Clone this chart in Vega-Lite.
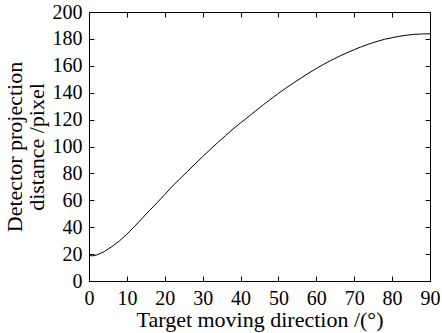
{
  "$schema": "https://vega.github.io/schema/vega-lite/v6.json",
  "width": 341,
  "height": 269,
  "autosize": "none",
  "padding": {"left": 89, "top": 12, "right": 12, "bottom": 52},
  "background": "white",
  "config": {
    "view": {"stroke": "black", "strokeWidth": 1},
    "font": "Liberation Serif",
    "axis": {
      "domain": false,
      "grid": false,
      "labelColor": "black",
      "labelFont": "Liberation Serif",
      "labelFontSize": 20,
      "titleFont": "Liberation Serif",
      "titleFontSize": 22,
      "titleFontWeight": "normal",
      "titleColor": "black"
    }
  },
  "data": {
    "values": [
      {"angle": 0, "distance": 19.0},
      {"angle": 1, "distance": 18.7},
      {"angle": 2, "distance": 19.3},
      {"angle": 4, "distance": 21.8},
      {"angle": 6, "distance": 25.5},
      {"angle": 8, "distance": 29.7},
      {"angle": 10, "distance": 34.8},
      {"angle": 12, "distance": 40.5},
      {"angle": 14, "distance": 46.5},
      {"angle": 16, "distance": 52.5},
      {"angle": 18, "distance": 58.3},
      {"angle": 20, "distance": 64.3},
      {"angle": 22, "distance": 70.5},
      {"angle": 24, "distance": 76.0},
      {"angle": 26, "distance": 81.5},
      {"angle": 28, "distance": 87.0},
      {"angle": 30, "distance": 92.5},
      {"angle": 32, "distance": 97.8},
      {"angle": 34, "distance": 103.0},
      {"angle": 36, "distance": 108.0},
      {"angle": 38, "distance": 113.0},
      {"angle": 40, "distance": 117.5},
      {"angle": 42, "distance": 122.0},
      {"angle": 44, "distance": 126.5},
      {"angle": 46, "distance": 131.0},
      {"angle": 48, "distance": 135.3},
      {"angle": 50, "distance": 139.5},
      {"angle": 52, "distance": 143.5},
      {"angle": 54, "distance": 147.3},
      {"angle": 56, "distance": 151.0},
      {"angle": 58, "distance": 154.6},
      {"angle": 60, "distance": 158.0},
      {"angle": 62, "distance": 161.2},
      {"angle": 64, "distance": 164.2},
      {"angle": 66, "distance": 167.0},
      {"angle": 68, "distance": 169.6},
      {"angle": 70, "distance": 172.0},
      {"angle": 72, "distance": 174.3},
      {"angle": 74, "distance": 176.3},
      {"angle": 76, "distance": 178.1},
      {"angle": 78, "distance": 179.7},
      {"angle": 80, "distance": 180.9},
      {"angle": 82, "distance": 182.0},
      {"angle": 84, "distance": 182.8},
      {"angle": 86, "distance": 183.4},
      {"angle": 88, "distance": 183.7},
      {"angle": 90, "distance": 183.8}
    ]
  },
  "layer": [
    {
      "mark": {"type": "line", "color": "black", "strokeWidth": 1},
      "encoding": {
        "x": {
          "field": "angle",
          "type": "quantitative",
          "scale": {"domain": [0, 90], "nice": false},
          "axis": {"orient": "bottom", "values": [0,10,20,30,40,50,60,70,80,90], "ticks": true, "tickSize": 5, "offset": -5, "tickColor": "black", "tickWidth": 1, "labelPadding": 7, "title": "Target moving direction /(°)", "titlePadding": 1, "labelFlush": false}
        },
        "y": {
          "field": "distance",
          "type": "quantitative",
          "scale": {"domain": [0, 200], "nice": false},
          "axis": {"orient": "left", "values": [0,20,40,60,80,100,120,140,160,180,200], "ticks": true, "tickSize": 5, "offset": -5, "tickColor": "black", "tickWidth": 1, "labelPadding": 7, "title": ["Detector projection", "distance /pixel"], "titleLineHeight": 22, "titlePadding": 4, "labelFlush": false}
        }
      }
    },
    {
      "mark": {"type": "line", "opacity": 0},
      "encoding": {
        "x": {
          "field": "angle",
          "type": "quantitative",
          "axis": {"orient": "top", "values": [0,10,20,30,40,50,60,70,80,90], "ticks": true, "tickSize": 5, "offset": -5, "tickColor": "black", "tickWidth": 1, "labels": false, "title": null}
        },
        "y": {
          "field": "distance",
          "type": "quantitative",
          "axis": {"orient": "right", "values": [0,20,40,60,80,100,120,140,160,180,200], "ticks": true, "tickSize": 5, "offset": -5, "tickColor": "black", "tickWidth": 1, "labels": false, "title": null}
        }
      }
    }
  ],
  "resolve": {"axis": {"x": "independent", "y": "independent"}}
}
